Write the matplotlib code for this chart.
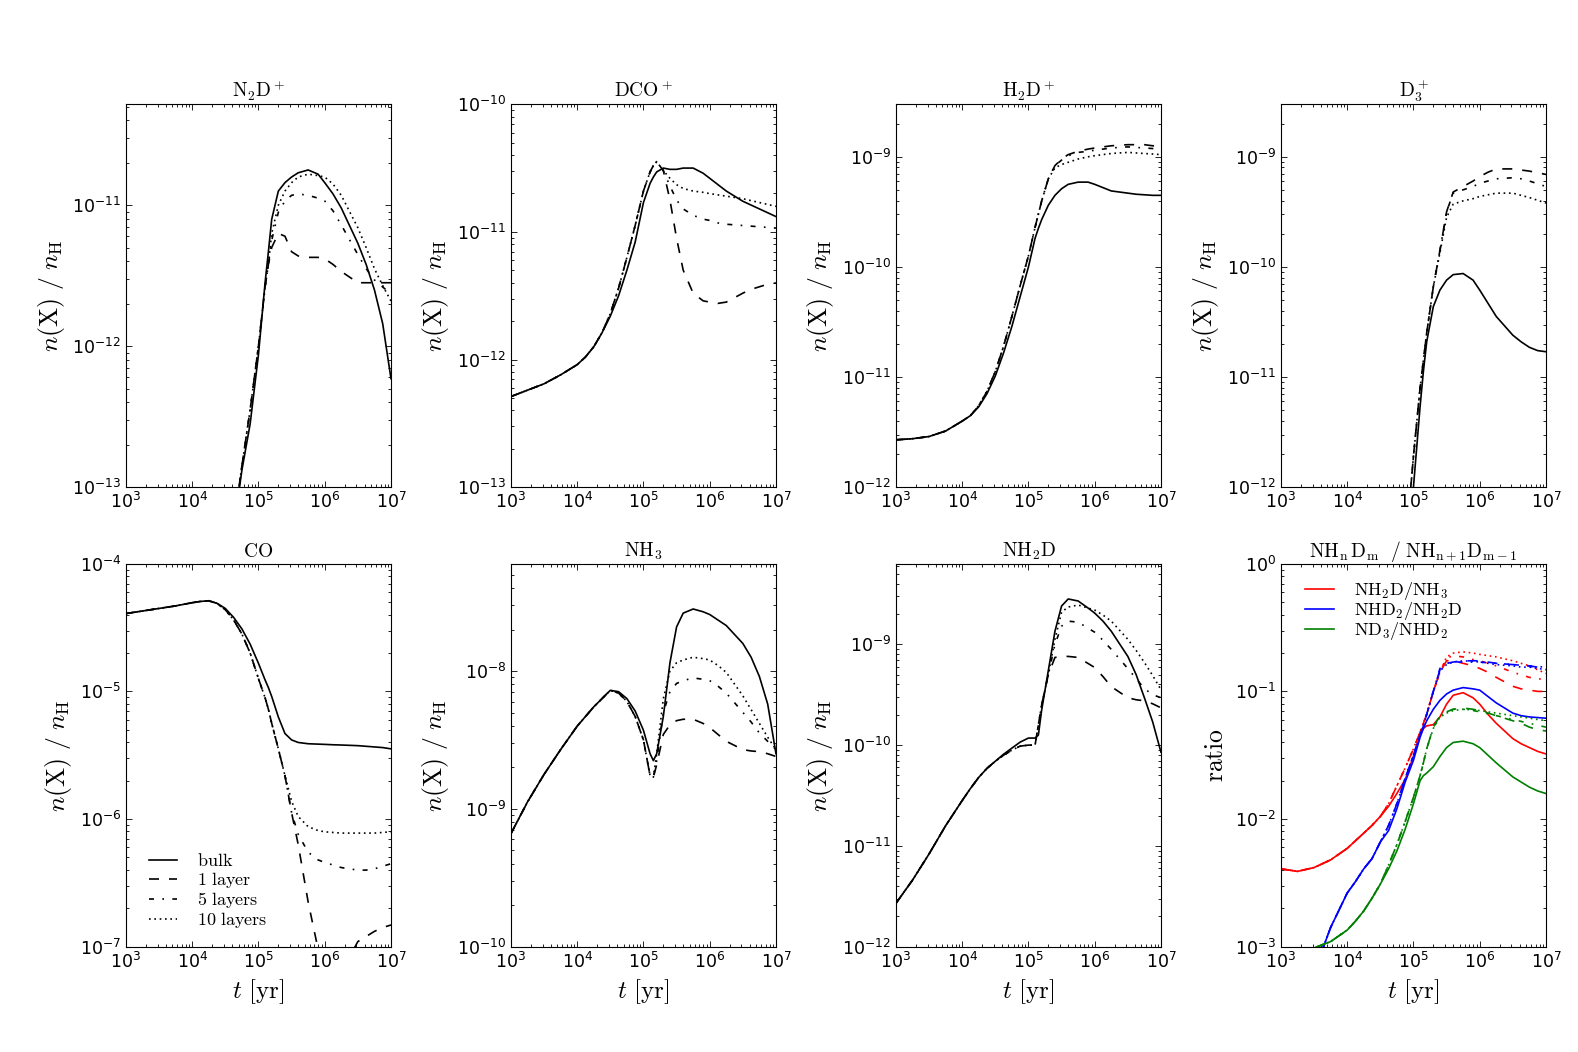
import numpy as np
import matplotlib
matplotlib.use('Agg')
import matplotlib.pyplot as plt
from matplotlib.ticker import NullFormatter

plt.rcParams['mathtext.fontset'] = 'cm'
plt.rcParams['axes.unicode_minus'] = False
plt.rcParams['lines.dashed_pattern'] = [6, 6]
plt.rcParams['lines.dashdot_pattern'] = [3, 5, 1, 5]
plt.rcParams['lines.dotted_pattern'] = [1, 2.2]

N = np.nan

# log10 of time [yr]
log_t = [3.0, 3.25, 3.5, 3.75, 4.0, 4.125, 4.25, 4.375, 4.5, 4.625, 4.75, 4.875,
         5.0, 5.1, 5.15, 5.2, 5.3, 5.4, 5.5, 5.6, 5.75, 5.9, 6.0, 6.125, 6.25,
         6.5, 6.625, 6.75, 6.875, 7.0]

# log10 abundances (bulk, 1 layer, 5 layers, 10 layers)
# the layer models share their early part, the tails differ
n2dp_bulk = [N, N, N, N, N, N, N, N, -13.7, -13.3, -12.88, -12.55, -12.06, -11.55,
             -11.33, -11.1, -10.9, -10.84, -10.8, -10.77, -10.75, -10.78, -10.84,
             -10.92, -11.02, -11.27, -11.42, -11.6, -11.84, -12.23]
n2dp_early = [N, N, N, N, N, N, N, N, -13.7, -13.28, -12.85, -12.45, -12.0, -11.58, -11.42]
n2dp_l1 = n2dp_early + [-11.3, -11.2, -11.22, -11.33, -11.36, -11.37, -11.37, -11.38,
                        -11.42, -11.47, -11.55, -11.55, -11.55, -11.55, -11.55]
n2dp_l5 = n2dp_early + [-11.25, -11.05, -10.97, -10.93, -10.92, -10.93, -10.95, -10.97,
                        -11.04, -11.14, -11.35, -11.45, -11.53, -11.58, -11.63]
n2dp_l10 = n2dp_early + [-11.2, -11.0, -10.9, -10.84, -10.8, -10.78, -10.79, -10.80,
                         -10.85, -10.93, -11.16, -11.3, -11.45, -11.57, -11.68]

dcop_bulk = [-12.29, -12.24, -12.19, -12.12, -12.04, -11.98, -11.9, -11.79, -11.66, -11.5,
             -11.3, -11.08, -10.77, -10.62, -10.57, -10.53, -10.5, -10.51, -10.51, -10.5,
             -10.5, -10.54, -10.58, -10.63, -10.68, -10.76, -10.79, -10.82, -10.85, -10.88]
dcop_early = [-12.29, -12.24, -12.19, -12.12, -12.04, -11.98, -11.9, -11.79, -11.64, -11.44,
              -11.2, -10.95, -10.68, -10.53, -10.48, -10.45, -10.52]
dcop_l1 = dcop_early + [-10.75, -11.05, -11.3, -11.48, -11.54, -11.55, -11.56, -11.55,
                        -11.48, -11.45, -11.43, -11.41, -11.40]
dcop_l5 = dcop_early + [-10.64, -10.75, -10.82, -10.87, -10.9, -10.91, -10.93, -10.94,
                        -10.95, -10.955, -10.96, -10.965, -10.97]
dcop_l10 = dcop_early + [-10.58, -10.63, -10.66, -10.68, -10.69, -10.70, -10.71, -10.72,
                         -10.74, -10.755, -10.77, -10.785, -10.80]

h2dp_bulk = [-11.57, -11.56, -11.54, -11.49, -11.40, -11.35, -11.27, -11.15, -10.99, -10.78,
             -10.54, -10.27, -10.0, -9.74, -9.65, -9.57, -9.44, -9.35, -9.29, -9.25,
             -9.23, -9.23, -9.25, -9.28, -9.31, -9.33, -9.34, -9.345, -9.35, -9.35]
h2dp_early = [-11.57, -11.56, -11.54, -11.49, -11.40, -11.35, -11.26, -11.13, -10.95, -10.72,
              -10.45, -10.17, -9.9, -9.64, -9.52, -9.4, -9.2]
h2dp_l1 = h2dp_early + [-9.08, -9.02, -8.98, -8.95, -8.93, -8.92, -8.91, -8.9, -8.89,
                        -8.89, -8.89, -8.9, -8.9]
h2dp_l5 = h2dp_early + [-9.08, -9.03, -8.99, -8.96, -8.95, -8.94, -8.93, -8.92, -8.91,
                        -8.915, -8.92, -8.925, -8.93]
h2dp_l10 = h2dp_early + [-9.1, -9.07, -9.05, -9.02, -9.0, -8.99, -8.98, -8.97, -8.96,
                         -8.965, -8.97, -8.975, -8.98]

d3p_bulk = [N, N, N, N, N, N, N, N, N, N, N, -13.0, -12.0, -11.27, -10.95, -10.68,
            -10.36, -10.21, -10.12, -10.07, -10.06, -10.12, -10.21, -10.33, -10.45,
            -10.62, -10.68, -10.73, -10.76, -10.77]
d3p_early = [N, N, N, N, N, N, N, N, N, N, N, -12.6, -11.72, -11.1, -10.85, -10.6, -10.18]
d3p_l1 = d3p_early + [-9.85, -9.5, -9.32, -9.27, -9.22, -9.18, -9.14, -9.11, -9.11,
                      -9.12, -9.13, -9.145, -9.16]
d3p_l5 = d3p_early + [-9.85, -9.5, -9.33, -9.30, -9.27, -9.24, -9.22, -9.20, -9.19,
                      -9.2, -9.22, -9.245, -9.27]
d3p_l10 = d3p_early + [-9.87, -9.55, -9.43, -9.40, -9.38, -9.36, -9.345, -9.33, -9.33,
                       -9.35, -9.37, -9.395, -9.42]

co_bulk = [-4.39, -4.37, -4.35, -4.33, -4.305, -4.295, -4.29, -4.31, -4.35, -4.42, -4.51,
           -4.63, -4.78, -4.91, -4.97, -5.04, -5.2, -5.33, -5.38, -5.40, -5.41, -5.413,
           -5.415, -5.418, -5.42, -5.425, -5.43, -5.435, -5.44, -5.45]
co_early = [-4.39, -4.37, -4.35, -4.33, -4.305, -4.295, -4.29, -4.31, -4.36, -4.44, -4.55,
            -4.7, -4.9, -5.05, -5.14, -5.25, -5.45, -5.66]
co_l1 = co_early + [-5.95, -6.2, -6.65, -7.02, -7.25, -7.3, -7.2, -6.96, -6.92, -6.88,
                    -6.85, -6.83]
co_l5 = co_early + [-5.95, -6.12, -6.26, -6.32, -6.34, -6.36, -6.38, -6.4, -6.4, -6.39,
                    -6.37, -6.35]
co_l10 = co_early + [-5.86, -5.98, -6.06, -6.09, -6.1, -6.105, -6.11, -6.11, -6.11, -6.11,
                     -6.105, -6.1]

nh3_bulk = [-9.18, -8.95, -8.75, -8.57, -8.40, -8.33, -8.26, -8.2, -8.14, -8.15, -8.2,
            -8.29, -8.43, -8.6, -8.65, -8.6, -8.33, -7.94, -7.68, -7.58, -7.55, -7.57,
            -7.59, -7.63, -7.67, -7.80, -7.9, -8.04, -8.24, -8.6]
nh3_early = [-9.18, -8.95, -8.75, -8.57, -8.40, -8.33, -8.26, -8.2, -8.14, -8.16, -8.22,
             -8.33, -8.5, -8.76, -8.77]
nh3_l1 = nh3_early + [-8.68, -8.46, -8.39, -8.36, -8.35, -8.35, -8.38, -8.41, -8.46, -8.51,
                      -8.57, -8.58, -8.585, -8.6, -8.62]
nh3_l5 = nh3_early + [-8.65, -8.3, -8.15, -8.09, -8.07, -8.05, -8.06, -8.07, -8.11, -8.16,
                      -8.3, -8.37, -8.45, -8.51, -8.57]
nh3_l10 = nh3_early + [-8.6, -8.2, -8.0, -7.94, -7.92, -7.9, -7.91, -7.92, -7.96, -8.01,
                       -8.18, -8.28, -8.38, -8.48, -8.57]

nh2d_bulk = [-11.57, -11.34, -11.08, -10.8, -10.55, -10.43, -10.32, -10.23, -10.16, -10.09,
             -10.03, -9.97, -9.93, -9.93, -9.9, -9.65, -9.26, -8.87, -8.62, -8.55, -8.57,
             -8.64, -8.69, -8.77, -8.87, -9.12, -9.3, -9.53, -9.77, -10.07]
nh2d_early = [-11.57, -11.34, -11.08, -10.8, -10.55, -10.43, -10.32, -10.23, -10.16, -10.1,
              -10.05, -10.01, -10.0, -10.0, -9.8, -9.6, -9.3]
nh2d_l1 = nh2d_early + [-9.13, -9.12, -9.12, -9.13, -9.19, -9.23, -9.32, -9.42, -9.53,
                        -9.55, -9.56, -9.59, -9.63]
nh2d_l5 = nh2d_early + [-9.0, -8.82, -8.77, -8.78, -8.84, -8.88, -8.96, -9.05, -9.24,
                        -9.34, -9.44, -9.5, -9.53]
nh2d_l10 = nh2d_early + [-8.95, -8.68, -8.63, -8.61, -8.64, -8.66, -8.71, -8.77, -8.95,
                         -9.06, -9.18, -9.31, -9.45]

# log10 ratios
r1_bulk = [-2.39, -2.41, -2.38, -2.32, -2.23, -2.17, -2.11, -2.05, -1.98, -1.9, -1.8,
           -1.69, -1.51, -1.34, -1.29, -1.27, -1.26, -1.2, -1.10, -1.03, -1.01, -1.05,
           -1.10, -1.18, -1.25, -1.37, -1.41, -1.44, -1.47, -1.49]
r1_early = [-2.39, -2.41, -2.38, -2.32, -2.23, -2.17, -2.11, -2.05, -1.98, -1.88, -1.74,
            -1.6, -1.45, -1.32, -1.25, -1.18, -1.0, -0.85]
r1_l1 = r1_early + [-0.76, -0.76, -0.78, -0.8, -0.82, -0.85, -0.89, -0.96, -0.98, -0.99,
                    -1.0, -1.0]
r1_l5 = r1_early + [-0.74, -0.72, -0.73, -0.75, -0.76, -0.78, -0.8, -0.85, -0.87, -0.89,
                    -0.9, -0.91]
r1_l10 = r1_early + [-0.73, -0.7, -0.69, -0.7, -0.71, -0.72, -0.73, -0.76, -0.78, -0.8,
                     -0.83, -0.86]

r2_bulk = [N, N, -3.2, -2.85, -2.58, -2.49, -2.39, -2.31, -2.18, -2.09, -1.92, -1.71,
           -1.54, -1.36, -1.29, -1.23, -1.14, -1.07, -1.02, -0.99, -0.97, -0.98, -0.99,
           -1.04, -1.09, -1.17, -1.19, -1.2, -1.205, -1.21]
r2_early = [N, N, -3.2, -2.85, -2.58, -2.49, -2.39, -2.31, -2.18, -2.05, -1.88, -1.68,
            -1.5, -1.34, -1.27, -1.18, -1.0]
r2_l1 = r2_early + [-0.83, -0.78, -0.77, -0.76, -0.76, -0.76, -0.77, -0.78, -0.79,
                    -0.795, -0.8, -0.81, -0.82]
r2_l5 = r2_early + [-0.82, -0.78, -0.77, -0.77, -0.77, -0.77, -0.775, -0.78, -0.79,
                    -0.795, -0.8, -0.805, -0.81]
r2_l10 = r2_early + [-0.84, -0.79, -0.77, -0.76, -0.765, -0.77, -0.78, -0.79, -0.8,
                     -0.81, -0.81, -0.82, -0.83]

r3_bulk = [N, -3.07, -3.01, -2.96, -2.87, -2.8, -2.72, -2.62, -2.51, -2.39, -2.25, -2.08,
           -1.88, -1.70, -1.66, -1.64, -1.59, -1.51, -1.44, -1.40, -1.39, -1.41, -1.44,
           -1.5, -1.56, -1.67, -1.71, -1.75, -1.78, -1.80]
r3_early = [N, -3.07, -3.01, -2.96, -2.87, -2.8, -2.72, -2.62, -2.51, -2.36, -2.2, -2.02,
            -1.83, -1.66, -1.56, -1.45]
r3_l1 = r3_early + [-1.28, -1.19, -1.16, -1.14, -1.13, -1.14, -1.15, -1.17, -1.19, -1.23,
                    -1.25, -1.28, -1.3, -1.31]
r3_l5 = r3_early + [-1.28, -1.2, -1.16, -1.14, -1.14, -1.15, -1.16, -1.175, -1.19, -1.22,
                    -1.235, -1.25, -1.265, -1.28]
r3_l10 = r3_early + [-1.29, -1.2, -1.17, -1.15, -1.14, -1.145, -1.15, -1.16, -1.17, -1.19,
                     -1.2, -1.21, -1.22, -1.23]

labels = [r'$\rm bulk$', r'$\rm 1\ layer$', r'$\rm 5\ layers$', r'$\rm 10\ layers$']
styles = ['-', '--', '-.', ':']

panels = [
    (r'$\rm N_2D^+$', (1e-13, 5.2e-11), [n2dp_bulk, n2dp_l1, n2dp_l5, n2dp_l10]),
    (r'$\rm DCO^+$', (1e-13, 1e-10), [dcop_bulk, dcop_l1, dcop_l5, dcop_l10]),
    (r'$\rm H_2D^+$', (1e-12, 3e-9), [h2dp_bulk, h2dp_l1, h2dp_l5, h2dp_l10]),
    (r'$\rm D_3^+$', (1e-12, 3e-9), [d3p_bulk, d3p_l1, d3p_l5, d3p_l10]),
    (r'$\rm CO$', (1e-7, 1e-4), [co_bulk, co_l1, co_l5, co_l10]),
    (r'$\rm NH_3$', (1e-10, 6e-8), [nh3_bulk, nh3_l1, nh3_l5, nh3_l10]),
    (r'$\rm NH_2D$', (1e-12, 6.3e-9), [nh2d_bulk, nh2d_l1, nh2d_l5, nh2d_l10]),
]

ratios = [
    ('r', r'$\rm NH_2D/NH_3$', [r1_bulk, r1_l1, r1_l5, r1_l10]),
    ('b', r'$\rm NHD_2/NH_2D$', [r2_bulk, r2_l1, r2_l5, r2_l10]),
    ('g', r'$\rm ND_3/NHD_2$', [r3_bulk, r3_l1, r3_l5, r3_l10]),
]


def setup_axis(ax, title, ylim):
    ax.set_xscale('log')
    ax.set_yscale('log')
    ax.set_xlim(1e3, 1e7)
    ax.set_ylim(*ylim)
    ax.tick_params(which='both', direction='in', top=True, right=True, labelsize=12.5)
    ax.tick_params(which='major', length=4.5, width=0.6)
    ax.tick_params(which='minor', length=2.2, width=0.6)
    ax.xaxis.set_minor_formatter(NullFormatter())
    ax.yaxis.set_minor_formatter(NullFormatter())
    ax.set_title(title, fontsize=14, pad=5)


t = 10 ** np.array(log_t)

fig, axes = plt.subplots(2, 4, figsize=(15.78, 10.52), dpi=100)
fig.subplots_adjust(left=0.0798, right=0.9797, bottom=0.1001, top=0.9009,
                    wspace=0.4525, hspace=0.2)
axes = axes.ravel()

for i, (title, ylim, curves) in enumerate(panels):
    ax = axes[i]
    for vals, ls, lab in zip(curves, styles, labels):
        ax.plot(t, 10 ** np.array(vals), color='k', ls=ls, lw=1.2, label=lab)
    setup_axis(ax, title, ylim)
    ax.set_ylabel(r'$n({\rm X})\ /\ n_{\rm H}$', fontsize=18.5)
    if i >= 4:
        ax.set_xlabel(r'$t\ [{\rm yr}]$', fontsize=18)

axes[4].legend(loc='lower left', bbox_to_anchor=(0.025, 0.0), frameon=False,
               fontsize=13, handlelength=1.55, handletextpad=1.1, labelspacing=0.0)

ax = axes[7]
for color, lab, curves in ratios:
    for j, (vals, ls) in enumerate(zip(curves, styles)):
        ax.plot(t, 10 ** np.array(vals), color=color, ls=ls, lw=1.2,
                label=lab if j == 0 else None)
setup_axis(ax, r'$\rm NH_n\,D_m\ \ /\ NH_{n+1}D_{m-1}$', (1e-3, 1.0))
ax.set_ylabel(r'$\rm ratio$', fontsize=18.5)
ax.set_xlabel(r'$t\ [{\rm yr}]$', fontsize=18)
ax.legend(loc='upper left', bbox_to_anchor=(0.03, 1.0), frameon=False,
          fontsize=13, handlelength=1.6, handletextpad=1.1, labelspacing=-0.1)

fig.savefig('out.png', dpi=100, facecolor='white')
